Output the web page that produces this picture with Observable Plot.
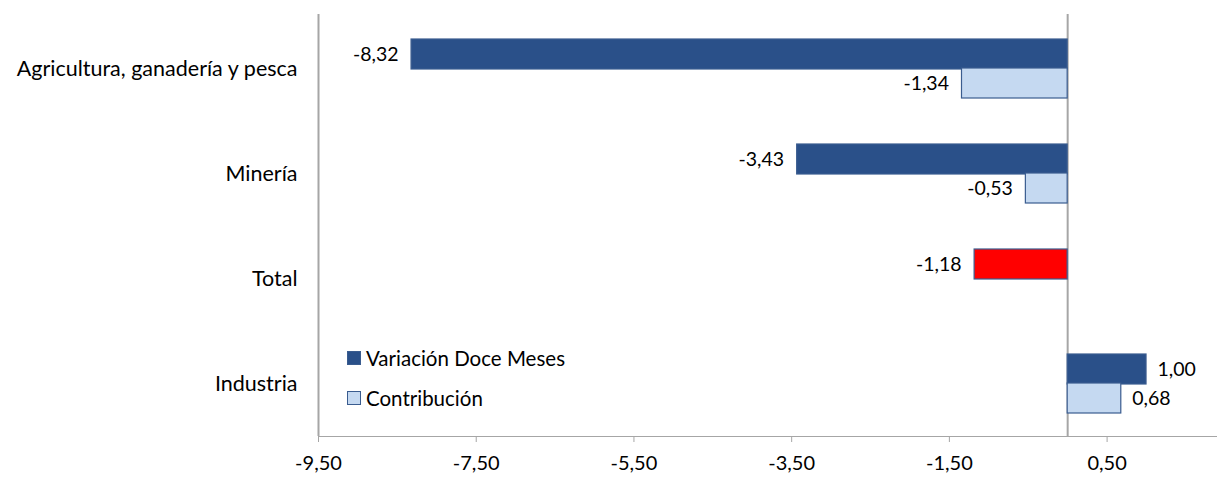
<!DOCTYPE html>
<html>
<head>
<meta charset="utf-8">
<script src="https://cdn.jsdelivr.net/npm/d3@7"></script>
<script src="https://cdn.jsdelivr.net/npm/@observablehq/plot@0.6"></script>
<style>
  html, body { margin: 0; padding: 0; background: #fff; }
  #chart { position: relative; width: 1217px; height: 478px; font-family: Lato, "Open Sans", sans-serif; }
  #chart svg { color: #a6a6a6; }
  #chart svg text { fill: #000; }
  #chart svg g[aria-label="y-axis tick label"] text, #chart svg g[aria-label="y-axis"] text { font-size: 21.5px; }
  .legend { position: absolute; left: 347px; font-size: 20.5px; color: #000; display: flex; align-items: center; line-height: 24px; }
  .legend .sw { width: 14px; height: 14px; margin-right: 5px; box-sizing: border-box; border: 1px solid #3a5c8f; }
</style>
</head>
<body>
<div id="chart"></div>
<script>
const categories = ["Agricultura, ganadería y pesca", "Minería", "Total", "Industria"];
const variacion = [-8.32, -3.43, -1.18, 1.00];
const contribucion = [-1.34, -0.53, null, 0.68];
const xTicks = [-9.5, -7.5, -5.5, -3.5, -1.5, 0.5];
const seriesNames = ["Variación Doce Meses", "Contribución"];

const fmt = d => d.toFixed(2).replace(".", ",");

const dark = categories.map((c, i) => ({cat: c, value: variacion[i], total: c === "Total"}));
const light = categories.map((c, i) => ({cat: c, value: contribucion[i]})).filter(d => d.value != null);

const bandInsetOuter = 23;
const bandInsetInner = 52;

const labelMarks = (data, dy) => [
  Plot.text(data.filter(d => d.value < 0), {
    x: "value", y: "cat", text: d => fmt(d.value),
    textAnchor: "end", dx: -13, dy, fill: "#000", fontSize: 19.5
  }),
  Plot.text(data.filter(d => d.value >= 0), {
    x: "value", y: "cat", text: d => fmt(d.value),
    textAnchor: "start", dx: 11, dy, fill: "#000", fontSize: 19.5
  })
];

const chart = Plot.plot({
  width: 1217,
  height: 478,
  marginLeft: 318,
  marginRight: 0,
  marginTop: 14,
  marginBottom: 42,
  style: {fontFamily: "Lato, 'Open Sans', sans-serif", fontSize: "20px", background: "white"},
  x: {
    domain: [-9.5, 1.9],
    ticks: xTicks,
    tickFormat: fmt,
    tickSize: 6,
    tickPadding: 13,
    line: true,
    label: null
  },
  y: {
    domain: categories,
    range: [16, 436],
    padding: 0,
    tickSize: 0,
    tickPadding: 21,
    label: null
  },
  marks: [
    Plot.ruleX([-9.5, 0], {stroke: "#a6a6a6", strokeWidth: 2}),
    Plot.barX(dark, {
      x: "value", y: "cat",
      fill: d => d.total ? "#ff0000" : "#2a5089",
      stroke: "#3a5c8f", strokeWidth: 1.2,
      insetTop: bandInsetOuter, insetBottom: bandInsetInner
    }),
    Plot.barX(light, {
      x: "value", y: "cat",
      fill: "#c5d9f1",
      stroke: "#3a5c8f", strokeWidth: 1.2,
      insetTop: bandInsetInner, insetBottom: bandInsetOuter
    }),
    ...labelMarks(dark, -14),
    ...labelMarks(light, 15)
  ]
});

const root = document.getElementById("chart");
root.appendChild(chart);

const legendColors = ["#2a5089", "#c5d9f1"];
const legendTops = [346, 386];
seriesNames.forEach((name, i) => {
  const div = document.createElement("div");
  div.className = "legend";
  div.style.top = legendTops[i] + "px";
  const sw = document.createElement("span");
  sw.className = "sw";
  sw.style.background = legendColors[i];
  const tx = document.createElement("span");
  tx.textContent = name;
  div.appendChild(sw);
  div.appendChild(tx);
  root.appendChild(div);
});
</script>
</body>
</html>
